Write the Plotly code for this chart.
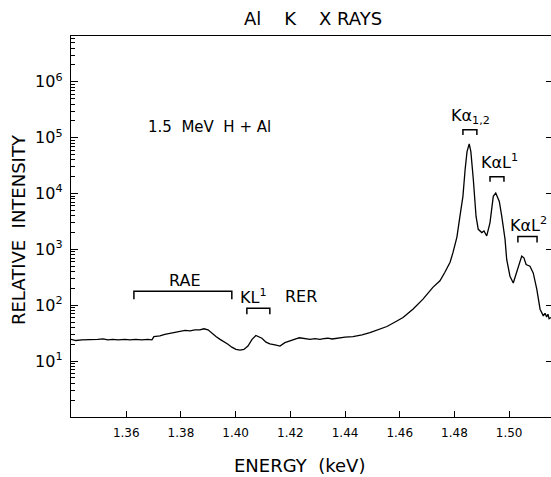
import math
import plotly.graph_objects as go

# ---- data ----
energy_kev = [
    1.3398, 1.3416, 1.3438, 1.3467, 1.3496, 1.3515, 1.3533, 1.3551, 1.3570, 1.3595,
    1.3613, 1.3635, 1.3657, 1.3679, 1.3694, 1.3701, 1.3723, 1.3741, 1.3760, 1.3778,
    1.3796, 1.3815, 1.3833, 1.3851, 1.3869, 1.3884, 1.3899, 1.3913, 1.3928, 1.3943,
    1.3957, 1.3972, 1.3986, 1.4001, 1.4016, 1.4030, 1.4045, 1.4060, 1.4074, 1.4085,
    1.4096, 1.4111, 1.4125, 1.4144, 1.4162, 1.4180, 1.4199, 1.4210, 1.4220, 1.4233,
    1.4246, 1.4259, 1.4272, 1.4290, 1.4308, 1.4322, 1.4337, 1.4353, 1.4370, 1.4385,
    1.4400, 1.4429, 1.4462, 1.4491, 1.4520, 1.4553, 1.4583,
    1.4612, 1.4648, 1.4685, 1.4721, 1.4747, 1.4765, 1.4784, 1.4795, 1.4809, 1.4820,
    1.4831, 1.4839, 1.4846, 1.4854, 1.4860, 1.4869, 1.4879, 1.4887, 1.4900, 1.4908,
    1.4918, 1.4930, 1.4942, 1.4951, 1.4964, 1.4973, 1.4985, 1.4991, 1.5003, 1.5015,
    1.5030, 1.5046, 1.5054, 1.5062, 1.5076, 1.5088, 1.5101, 1.5107, 1.5113, 1.5125,
    1.5131, 1.5137, 1.5142, 1.5146, 1.5153,
]
intensity = [
    24.5, 23.4, 24.0, 24.0, 24.5, 25.1, 24.0, 24.5, 24.0, 24.5,
    24.0, 24.5, 24.0, 24.5, 24.0, 27.5, 28.2, 30.2, 31.6, 33.1,
    33.9, 35.5, 34.7, 36.3, 36.3, 38.0, 36.3, 31.6, 27.5, 24.5,
    22.4, 20.0, 17.8, 16.2, 15.8, 16.2, 18.6, 24.5, 28.8, 27.5,
    25.7, 21.9, 20.4, 19.5, 18.6, 21.4, 23.4, 24.3, 25.1, 26.2,
    25.7, 24.9, 24.5, 25.3, 24.5, 25.4, 25.7, 24.9, 25.7, 26.4,
    26.9, 27.5, 29.5, 32.4, 36.3, 41.7, 50.1,
    60.3, 85.1, 129, 209, 275, 389, 589, 891, 1660, 3890,
    8910, 26900, 56200, 77600, 56200, 17800, 3890, 2290, 2000, 2140,
    1740, 3020, 8910, 10200, 7240, 3890, 1510, 661, 331, 251,
    437, 759, 708, 537, 501, 380, 195, 129, 85.1, 64.6,
    72.0, 62.0, 69.2, 57.5, 60.3,
]

x_range = [1.3398, 1.5153]
x_tick_values = [1.36, 1.38, 1.40, 1.42, 1.44, 1.46, 1.48, 1.50]
x_tick_labels = ["1.36", "1.38", "1.40", "1.42", "1.44", "1.46", "1.48", "1.50"]
y_decades = [1, 2, 3, 4, 5, 6]
y_tick_labels = ["10<sup>1</sup>", "10<sup>2</sup>", "10<sup>3</sup>",
                 "10<sup>4</sup>", "10<sup>5</sup>", "10<sup>6</sup>"]
y_log_range = [0, 6.82]

# in-plot labels: text, energy of centre, intensity of centre
label_text = ["1.5\u00a0 MeV\u00a0 H + Al", "RAE", "KL<sup>1</sup>", "RER",
              "K\u03b1<sub>1,2</sub>", "K\u03b1L<sup>1</sup>", "K\u03b1L<sup>2</sup>"]
label_x = [1.3906, 1.3815, 1.4067, 1.4239, 1.4857, 1.4966, 1.5069]
label_y = [157000, 274, 145, 145, 237000, 37200, 2790]

# brackets: start energy, end energy, top intensity, foot intensity
bracket_lo = [1.3628, 1.4041, 1.4831, 1.4930, 1.5032]
bracket_hi = [1.3986, 1.4125, 1.4882, 1.4981, 1.5102]
bracket_top = [178, 88.3, 138000, 20000, 1700]
bracket_foot = [128, 69.0, 112000, 16200, 1330]

FONT = "DejaVu Sans"

fig = go.Figure()
fig.add_trace(go.Scatter(x=energy_kev, y=intensity, mode="lines",
                         line=dict(color="black", width=1.3),
                         showlegend=False, hoverinfo="skip"))
for lo, hi, top, foot in zip(bracket_lo, bracket_hi, bracket_top, bracket_foot):
    fig.add_trace(go.Scatter(x=[lo, lo, hi, hi], y=[foot, top, top, foot],
                             mode="lines", line=dict(color="black", width=1.5),
                             showlegend=False, hoverinfo="skip"))
# invisible trace to carry the right-hand tick axis
fig.add_trace(go.Scatter(x=energy_kev, y=intensity, yaxis="y2", mode="lines",
                         line=dict(color="rgba(0,0,0,0)", width=0),
                         showlegend=False, hoverinfo="skip"))

minor_vals = [m * 10 ** d for d in range(0, 7) for m in range(2, 10)]

annotations = []
for t, x, y in zip(label_text, label_x, label_y):
    annotations.append(dict(text=t, x=x, y=math.log10(y), xref="x", yref="y",
                            showarrow=False, font=dict(family=FONT, size=16, color="black"),
                            xanchor="center", yanchor="middle"))
annotations[0]["font"] = dict(family=FONT, size=15, color="black")

annotations += [
    dict(text="Al\u00a0\u00a0\u00a0 K\u00a0\u00a0\u00a0 X RAYS", x=0.505, y=1.046,
         xref="paper", yref="paper", showarrow=False,
         font=dict(family=FONT, size=18, color="black"), xanchor="center", yanchor="middle"),
    dict(text="ENERGY\u00a0 (keV)", x=0.477, y=-0.126, xref="paper", yref="paper",
         showarrow=False, font=dict(family=FONT, size=18, color="black"),
         xanchor="center", yanchor="middle"),
    dict(text="RELATIVE\u00a0 INTENSITY", x=-0.108, y=0.491, xref="paper", yref="paper",
         showarrow=False, textangle=-90, font=dict(family=FONT, size=18, color="black"),
         xanchor="center", yanchor="middle"),
]

fig.update_layout(
    width=551, height=477,
    margin=dict(l=71, r=0, t=36, b=60, autoexpand=False),
    paper_bgcolor="white", plot_bgcolor="white",
    showlegend=False,
    annotations=annotations,
    xaxis=dict(range=x_range, tickmode="array", tickvals=x_tick_values,
               ticktext=x_tick_labels, ticks="inside", ticklen=6, tickwidth=1.2,
               tickcolor="black", showline=True, linecolor="black", linewidth=1.4,
               mirror=True, showgrid=False, zeroline=False,
               tickfont=dict(family=FONT, size=12, color="black"),
               ticklabelstandoff=4),
    yaxis=dict(type="log", range=y_log_range, tickmode="array",
               tickvals=[10 ** d for d in y_decades], ticktext=y_tick_labels,
               ticks="inside", ticklen=7, tickwidth=1.2, tickcolor="black",
               showline=True, linecolor="black", linewidth=1.4, mirror=False,
               showgrid=False, zeroline=False,
               tickfont=dict(family=FONT, size=16, color="black"),
               ticklabelstandoff=4,
               minor=dict(tickmode="array", tickvals=minor_vals, ticks="inside",
                          ticklen=4, tickwidth=1, tickcolor="black", showgrid=False)),
    yaxis2=dict(type="log", range=y_log_range, overlaying="y", side="right",
                tickmode="array", tickvals=[10 ** d for d in y_decades],
                showticklabels=False, ticks="inside", ticklen=5, tickwidth=1.2,
                tickcolor="black", showline=False, showgrid=False, zeroline=False),
)

fig.write_html(
    "out.html",
    config={"displayModeBar": False},
    post_script="document.body.style.margin='0';document.body.style.overflow='hidden';",
)
